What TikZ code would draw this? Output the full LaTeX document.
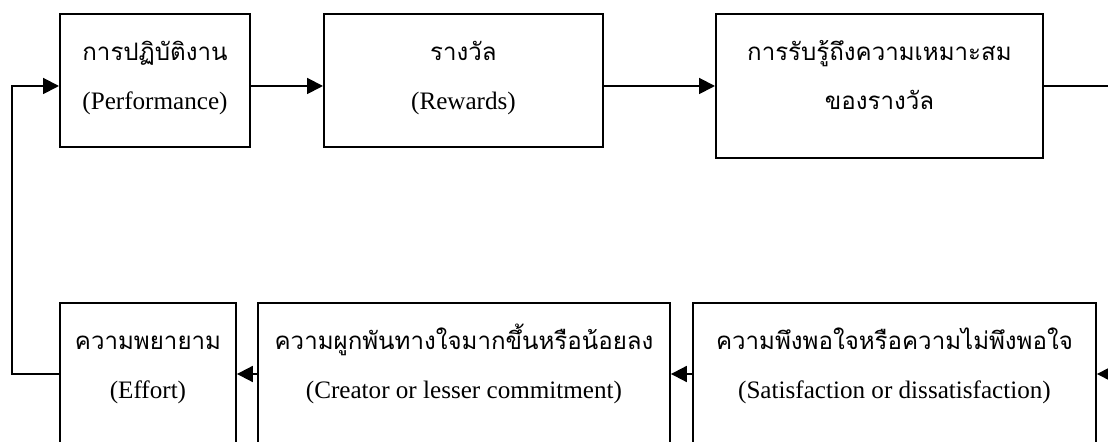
\documentclass[tikz,border=0pt]{standalone}
\usepackage{fontspec}
\setmainfont{Liberation Serif}
\newfontfamily\thaifont[Script=Thai]{Loma}
\usetikzlibrary{arrows.meta}

\tikzset{
  stagebox/.style={draw, line width=1.1pt, anchor=north west, inner sep=0pt},
  thline/.style={anchor=base, font=\thaifont\fontsize{13.7}{16}\selectfont},
  enline/.style={anchor=base, font=\fontsize{14.3}{17}\selectfont},
  flow/.style={line width=1.1pt, -{Triangle[length=9pt,width=9pt]}}
}

\begin{document}
\begin{tikzpicture}
    \useasboundingbox (0,0) rectangle (22.16,8.84);
    \clip (0,0) rectangle (22.16,8.84);

    % rows of the arrows and the return line
    \coordinate (toprow) at (0,7.12);
    \coordinate (botrow) at (0,1.36);
    \coordinate (loop) at (0.24,0);
    \coordinate (rim) at (22.6,0);

    % upper row
    \node[stagebox, minimum width=3.80cm, minimum height=2.66cm] (perf) at (1.18,8.58) {};
    \node[thline] (perf-th) at ([yshift=-0.96cm]perf.north) {การปฏิบัติงาน};
    \node[enline] (perf-en) at ([yshift=-1.94cm]perf.north) {(Performance)};

    \node[stagebox, minimum width=5.58cm, minimum height=2.66cm] (rew) at (6.46,8.58) {};
    \node[thline] (rew-th) at ([yshift=-0.96cm]rew.north) {รางวัล};
    \node[enline] (rew-en) at ([yshift=-1.94cm]rew.north) {(Rewards)};

    \node[stagebox, minimum width=6.54cm, minimum height=2.88cm] (fit) at (14.30,8.58) {};
    \node[thline] (fit-th) at ([yshift=-0.96cm]fit.north) {การรับรู้ถึงความเหมาะสม};
    \node[thline] (fit-th2) at ([yshift=-1.94cm]fit.north) {ของรางวัล};

    % lower row
    \node[stagebox, minimum width=3.52cm, minimum height=3.4cm] (eff) at (1.18,2.80) {};
    \node[thline] (eff-th) at ([yshift=-0.96cm]eff.north) {ความพยายาม};
    \node[enline] (eff-en) at ([yshift=-1.94cm]eff.north) {(Effort)};

    \node[stagebox, minimum width=8.24cm, minimum height=3.4cm] (commit) at (5.14,2.80) {};
    \node[thline] (commit-th) at ([yshift=-0.96cm]commit.north) {ความผูกพันทางใจมากขึ้นหรือน้อยลง};
    \node[enline] (commit-en) at ([yshift=-1.94cm]commit.north) {(Creator or lesser commitment)};

    \node[stagebox, minimum width=8.06cm, minimum height=3.4cm] (sat) at (13.84,2.80) {};
    \node[thline] (sat-th) at ([yshift=-0.96cm]sat.north) {ความพึงพอใจหรือความไม่พึงพอใจ};
    \node[enline] (sat-en) at ([yshift=-1.94cm]sat.north) {(Satisfaction or dissatisfaction)};

    % arrows
    \draw[flow] (perf.east |- toprow) -- (rew.west |- toprow);
    \draw[flow] (rew.east |- toprow) -- (fit.west |- toprow);
    \draw[flow] (fit.east |- toprow) -| (rim |- botrow) -- (sat.east |- botrow);
    \draw[flow] (sat.west |- botrow) -- (commit.east |- botrow);
    \draw[flow] (commit.west |- botrow) -- (eff.east |- botrow);
    \draw[flow] (eff.west |- botrow) -| (loop |- toprow) -- (perf.west |- toprow);
\end{tikzpicture}
\end{document}
